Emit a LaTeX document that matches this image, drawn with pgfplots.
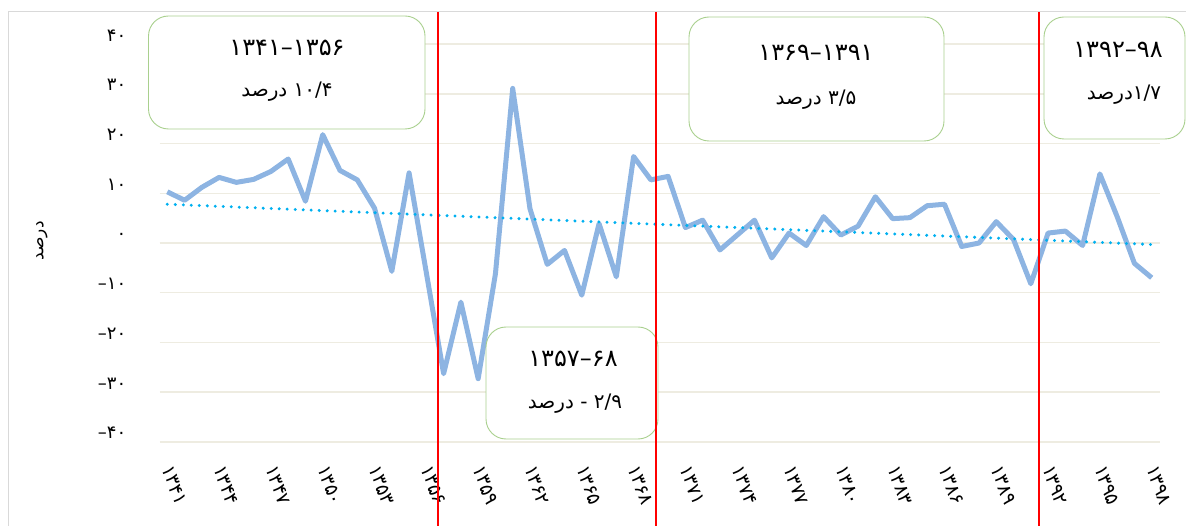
\documentclass[border=0pt]{standalone}
\usepackage{pgfplots}
\pgfplotsset{compat=1.18}
\usepackage{fontspec}
\setmainfont{DejaVu Sans}
\newfontfamily\fa[Script=Arabic]{DejaVu Sans}
\newfontfamily\fd{DejaVu Sans}
\TeXXeTstate=1
\definecolor{linec}{RGB}{141,180,226}
\definecolor{trendc}{RGB}{0,176,240}
\definecolor{gridc}{RGB}{238,236,225}
\definecolor{zeroc}{RGB}{212,212,212}
\definecolor{boxc}{RGB}{169,208,142}
\definecolor{framec}{RGB}{217,217,217}
\newcommand{\fs}[1]{\fontsize{#1}{#1}\selectfont}
\begin{document}
\begin{tikzpicture}
\useasboundingbox (0,0) rectangle (1186pt,-526pt);
\draw[framec, line width=1pt] (8pt,-526pt) -- (8pt,-12pt) -- (1186pt,-12pt);
\begin{axis}[
  at={(167.3pt,-243pt)}, anchor=origin,
  x=17.27pt, y=4.97pt,
  xmin=-0.45, xmax=57.5, ymin=-40, ymax=40,
  clip=false,
  axis line style={draw=none},
  major tick length=0pt,
  ytick={-40,-30,...,40},
  yticklabels={–۴۰,–۳۰,–۲۰,–۱۰,۰,۱۰,۲۰,۳۰,۴۰},
  yticklabel style={yshift=3pt, font=\fd\fs{18pt}, anchor=base east, inner sep=0pt},
  yticklabel shift=33pt,
  xtick={0,3,...,57},
  xticklabels={۱۳۴۱,۱۳۴۴,۱۳۴۷,۱۳۵۰,۱۳۵۳,۱۳۵۶,۱۳۵۹,۱۳۶۲,۱۳۶۵,۱۳۶۸,۱۳۷۱,۱۳۷۴,۱۳۷۷,۱۳۸۰,۱۳۸۳,۱۳۸۶,۱۳۸۹,۱۳۹۲,۱۳۹۵,۱۳۹۸},
  xticklabel style={font=\fd\fs{19pt}, rotate=-70, anchor=west, inner sep=0pt},
  xticklabel shift=24pt,
  ymajorgrids,
  major grid style={gridc, line width=1.5pt},
  extra y ticks={0},
  extra y tick labels={},
  extra y tick style={grid style={zeroc, line width=2pt}},
]
\addplot[linec, line width=5pt, line join=round, mark=none] coordinates {
(0,10.3) (1,8.6) (2,11.2) (3,13.2) (4,12.2) (5,12.8) (6,14.4) (7,16.9) (8,8.4) (9,21.8)
(10,14.6) (11,12.7) (12,7.0) (13,-5.7) (14,14.1) (15,-6.0) (16,-26.3) (17,-11.9) (18,-27.3) (19,-6.2)
(20,31.1) (21,6.9) (22,-4.3) (23,-1.5) (24,-10.5) (25,3.9) (26,-6.8) (27,17.4) (28,12.7) (29,13.4)
(30,3.1) (31,4.6) (32,-1.4) (33,1.6) (34,4.6) (35,-3.0) (36,2.0) (37,-0.5) (38,5.3) (39,1.6)
(40,3.4) (41,9.3) (42,4.9) (43,5.1) (44,7.5) (45,7.8) (46,-0.7) (47,0.0) (48,4.3) (49,0.7)
(50,-8.2) (51,2.0) (52,2.4) (53,-0.5) (54,13.9) (55,5.3) (56,-4.1) (57,-7.0)
};
\addplot[trendc, line width=3.3pt, line cap=round, dash pattern=on 0pt off 8pt, mark=none] coordinates {(0,7.8) (57,-0.3)};
\coordinate (r1) at (axis cs:15.67,0);
\coordinate (r2) at (axis cs:28.32,0);
\coordinate (r3) at (axis cs:50.5,0);
\end{axis}
\coordinate (top) at (0,-12pt);
\coordinate (bot) at (0,-526pt);
\node[rotate=90, font=\fa\fs{17pt}] at (42pt,-241pt) {\beginR درصد\endR};
\tikzset{bx/.style={draw=boxc, line width=0.9pt, rounded corners=20pt, fill=white}}
\draw[bx] (148.5pt,-16pt) rectangle (425pt,-129pt);
\draw[bx] (486pt,-327pt) rectangle (658pt,-439pt);
\draw[bx] (689pt,-17pt) rectangle (944pt,-141pt);
\draw[bx] (1044pt,-17pt) rectangle (1185pt,-139pt);
\node[font=\fd\fs{24pt}] at (287pt,-48pt) {۱۳۴۱–۱۳۵۶};
\node[font=\fs{20pt}] at (287pt,-92pt) {{\fa\beginR درصد\endR}\ {\fd ۱۰/۴}};
\node[font=\fd\fs{24pt}] at (573pt,-359pt) {۱۳۵۷–۶۸};
\node[font=\fs{20pt}] at (575pt,-404pt) {{\fa\beginR درصد\endR}\ {\fd - ۲/۹}};
\node[font=\fd\fs{24pt}] at (816pt,-53pt) {۱۳۶۹–۱۳۹۱};
\node[font=\fs{20pt}] at (816pt,-100pt) {{\fa\beginR درصد\endR}\ {\fd ۳/۵}};
\node[font=\fd\fs{24pt}] at (1118pt,-50pt) {۱۳۹۲–۹۸};
\node[font=\fs{20pt}] at (1124pt,-95pt) {{\fa\beginR درصد\endR}{\fd ۱/۷}};
\draw[red, line width=2pt] (r1 |- top) -- (r1 |- bot);
\draw[red, line width=2pt] (r2 |- top) -- (r2 |- bot);
\draw[red, line width=2pt] (r3 |- top) -- (r3 |- bot);
\end{tikzpicture}
\end{document}
